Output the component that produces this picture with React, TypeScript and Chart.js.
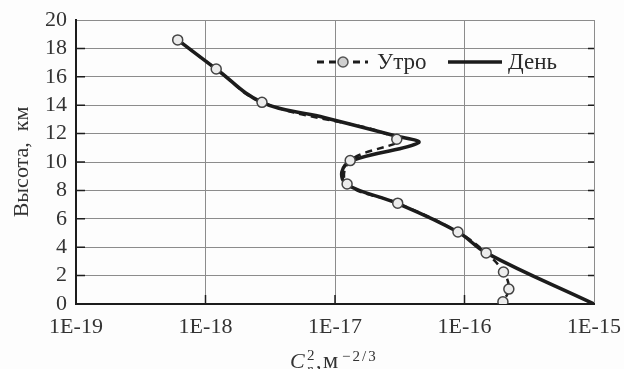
import React, { useEffect, useRef } from 'react';
import { Chart, registerables } from 'chart.js';

Chart.register(...registerables);

// ---- data ----
const X_TICKS = [1e-19, 1e-18, 1e-17, 1e-16, 1e-15];
const Y_MIN = 0;
const Y_MAX = 20;
const Y_STEP = 2;

// Morning (Утро) measured points
const morningX = [6.1e-19, 1.21e-18, 2.73e-18, 3.0e-17, 1.31e-17, 1.24e-17, 3.05e-17, 8.9e-17, 1.47e-16, 2.0e-16, 2.2e-16, 1.98e-16];
const morningH = [18.6, 16.55, 14.2, 11.6, 10.1, 8.45, 7.1, 5.07, 3.6, 2.25, 1.05, 0.15];

// Day (День) profile
const dayX = [6.1e-19, 1.21e-18, 2.73e-18, 7.7e-18, 2.9e-17, 4.4e-17, 1.35e-17, 1.13e-17, 1.24e-17, 3.0e-17, 8.9e-17, 1.47e-16, 1e-15];
const dayH = [18.6, 16.55, 14.2, 13.2, 11.85, 11.35, 10.1, 9.3, 8.4, 7.1, 5.07, 3.6, 0];

const SERIF = "'Liberation Serif', 'DejaVu Serif', serif";
const INK = '#1c1c1c';

const decorPlugin = {
  id: 'decor',
  afterDraw(chart: any) {
    const ctx = chart.ctx as CanvasRenderingContext2D;
    const a = chart.chartArea;
    const xs = chart.scales.x;
    const ys = chart.scales.y;
    ctx.save();
    // inner tick marks
    ctx.strokeStyle = INK;
    ctx.lineWidth = 1.5;
    for (let v = Y_MIN + Y_STEP; v < Y_MAX; v += Y_STEP) {
      const y = ys.getPixelForValue(v);
      ctx.beginPath();
      ctx.moveTo(a.left, y);
      ctx.lineTo(a.left + 9, y);
      ctx.moveTo(a.right, y);
      ctx.lineTo(a.right - 6, y);
      ctx.stroke();
    }
    for (let i = 1; i < X_TICKS.length - 1; i++) {
      const x = xs.getPixelForValue(X_TICKS[i]);
      ctx.beginPath();
      ctx.moveTo(x, a.bottom);
      ctx.lineTo(x, a.bottom - 9);
      ctx.stroke();
    }

    // legend
    const ly = 62;
    const l1 = a.right - 277;
    ctx.strokeStyle = INK;
    ctx.lineWidth = 3;
    ctx.setLineDash([7, 5]);
    ctx.beginPath();
    ctx.moveTo(l1, ly);
    ctx.lineTo(l1 + 51, ly);
    ctx.stroke();
    ctx.setLineDash([]);
    ctx.beginPath();
    ctx.arc(l1 + 26, ly, 5, 0, Math.PI * 2);
    ctx.fillStyle = '#cfcfcf';
    ctx.fill();
    ctx.lineWidth = 1.5;
    ctx.strokeStyle = '#555';
    ctx.stroke();
    ctx.fillStyle = '#2a2a2a';
    ctx.font = `23px ${SERIF}`;
    ctx.textBaseline = 'middle';
    ctx.textAlign = 'left';
    ctx.fillText('Утро', l1 + 60, ly + 1);
    const l2 = a.right - 146;
    ctx.strokeStyle = INK;
    ctx.lineWidth = 3.5;
    ctx.beginPath();
    ctx.moveTo(l2, ly);
    ctx.lineTo(l2 + 54, ly);
    ctx.stroke();
    ctx.fillText('День', l2 + 60, ly + 1);

    // y title
    ctx.save();
    ctx.translate(22, (a.top + a.bottom) / 2);
    ctx.rotate(-Math.PI / 2);
    ctx.textAlign = 'center';
    ctx.textBaseline = 'middle';
    ctx.font = `22px ${SERIF}`;
    ctx.fillStyle = '#333';
    ctx.fillText('Высота,  км', 0, 0);
    ctx.restore();

    // x title: C_n^2, м^-2/3
    const cx = (a.left + a.right) / 2;
    const base = 368;
    const x0 = cx - 45;
    ctx.textAlign = 'left';
    ctx.textBaseline = 'alphabetic';
    ctx.fillStyle = '#333';
    ctx.font = `italic 22px ${SERIF}`;
    ctx.fillText('C', x0, base);
    ctx.font = `15px ${SERIF}`;
    ctx.fillText('2', x0 + 17, base - 8);
    ctx.font = `italic 13px ${SERIF}`;
    ctx.fillText('n', x0 + 17, base + 5);
    ctx.font = `22px ${SERIF}`;
    ctx.fillText(',', x0 + 26, base);
    ctx.font = `24px ${SERIF}`;
    ctx.fillText('м', x0 + 33, base);
    ctx.font = `15px ${SERIF}`;
    (ctx as any).letterSpacing = '2px';
    ctx.fillText('−2/3', x0 + 52, base - 7);
    (ctx as any).letterSpacing = '0px';
    ctx.restore();
  },
};

export default function App() {
  const ref = useRef<HTMLCanvasElement>(null);
  useEffect(() => {
    document.body.style.margin = '0';
    const canvas = ref.current;
    if (!canvas) return;
    const tickFont = { family: SERIF, size: 22 };
    const chart = new Chart(canvas, {
      type: 'line',
      data: {
        datasets: [
          {
            label: 'Утро',
            data: morningX.map((v, i) => ({ x: v, y: morningH[i] })),
            borderColor: INK,
            borderWidth: 2.5,
            borderDash: [7, 5],
            pointRadius: 5,
            pointBackgroundColor: '#ececec',
            pointBorderColor: '#444',
            pointBorderWidth: 1.5,
            tension: 0.4,
            fill: false,
          },
          {
            label: 'День',
            data: dayX.map((v, i) => ({ x: v, y: dayH[i] })),
            borderColor: INK,
            borderWidth: 3.5,
            pointRadius: 0,
            tension: 0.4,
            fill: false,
          },
        ],
      },
      options: {
        responsive: false,
        animation: false,
        parsing: false as any,
        layout: { padding: { top: 20, right: 30, left: 0, bottom: 0 } },
        plugins: { legend: { display: false }, tooltip: { enabled: false } },
        scales: {
          x: {
            type: 'logarithmic',
            min: 1e-19,
            max: 1e-15,
            afterBuildTicks: (s: any) => {
              s.ticks = X_TICKS.map((v) => ({ value: v }));
            },
            afterFit: (s: any) => {
              s.height = 65;
              s.paddingLeft = 0;
              s.paddingRight = 0;
            },
            ticks: {
              autoSkip: false,
              maxRotation: 0,
              font: tickFont,
              color: '#333',
              padding: 10,
              callback: (v: any) => '1E' + Math.round(Math.log10(Number(v))),
            },
            grid: { color: '#8c8c8c', lineWidth: 1, drawTicks: false },
            border: { color: INK, width: 2 },
          },
          y: {
            type: 'linear',
            min: Y_MIN,
            max: Y_MAX,
            afterFit: (s: any) => {
              s.width = 76;
              s.paddingTop = 0;
              s.paddingBottom = 0;
            },
            ticks: { stepSize: Y_STEP, autoSkip: false, font: tickFont, color: '#333', padding: 9 },
            grid: { color: '#8c8c8c', lineWidth: 1, drawTicks: false },
            border: { color: INK, width: 2 },
          },
        },
      },
      plugins: [decorPlugin],
    } as any);
    return () => chart.destroy();
  }, []);
  return (
    <div style={{ width: 624, height: 369, background: '#fdfdfd' }}>
      <canvas ref={ref} width={624} height={369} style={{ width: 624, height: 369, display: 'block' }} />
    </div>
  );
}
